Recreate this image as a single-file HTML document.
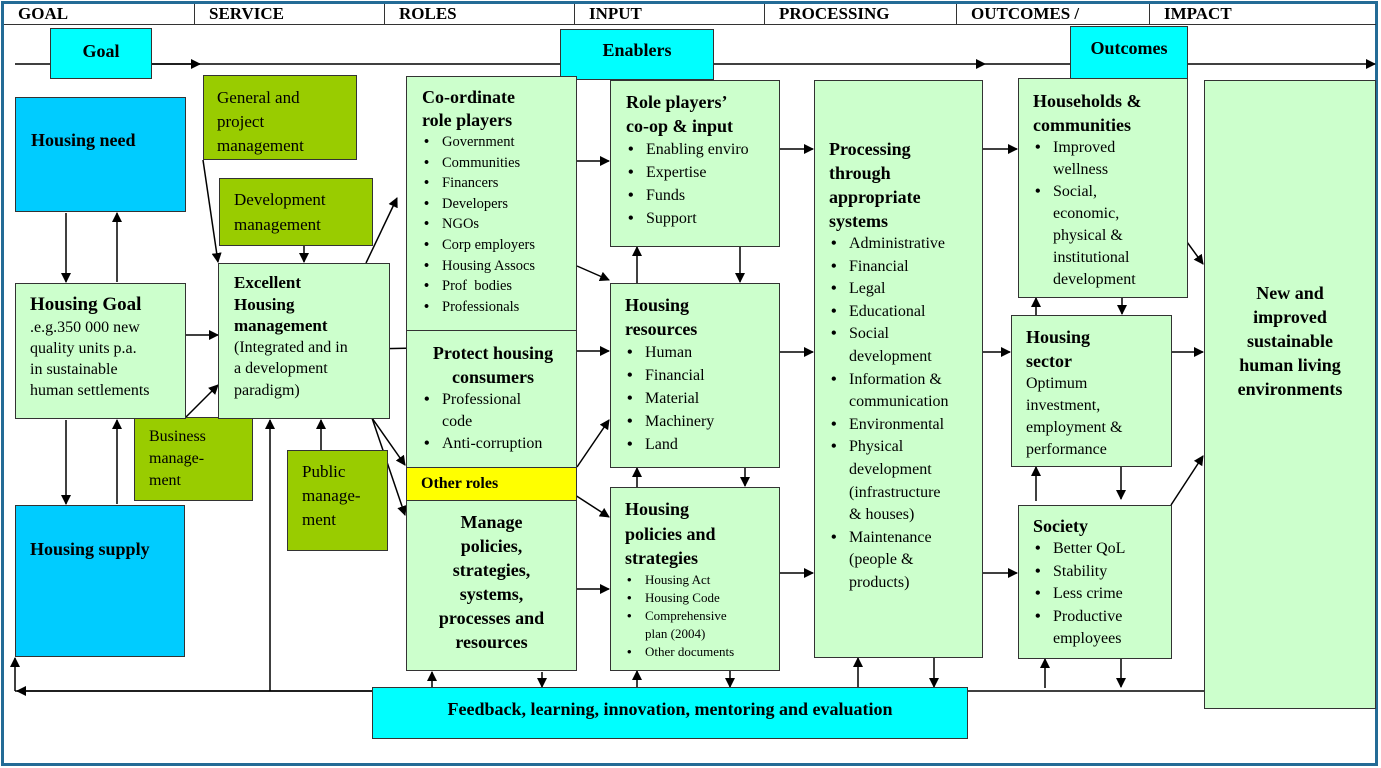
<!DOCTYPE html>
<html><head><meta charset="utf-8"><style>
*{margin:0;padding:0;box-sizing:border-box}
body{width:1381px;height:768px;background:#fff;position:relative;overflow:hidden;font-family:"Liberation Serif",serif;color:#000}
.fr{position:absolute;left:1px;top:1px;width:1377px;height:765px;border:3px solid #236b96}
.h{position:absolute;top:4px;height:21px;border-right:1.5px solid #333;font-weight:bold;font-size:17px;padding-left:14px;line-height:20px}
.hb{position:absolute;left:4px;top:24px;width:1372px;border-top:1.5px solid #333}
.b{position:absolute;border:1.5px solid #333;background:#ccffcc;font-size:16px}
.c{background:#00ffff}
.bl{background:#00ccff}
.g{background:#99cc00}
.y{background:#ffff00}
.t{font-weight:bold;font-size:18px}
.li{position:relative;padding-left:20px}
.li:before{content:"•";position:absolute;left:2px;font-weight:bold}
svg{position:absolute;left:0;top:0}
</style></head><body>
<div class="fr"></div>
<div class="h" style="left:4px;width:191px">GOAL</div>
<div class="h" style="left:195px;width:190px">SERVICE</div>
<div class="h" style="left:385px;width:190px">ROLES</div>
<div class="h" style="left:575px;width:190px">INPUT</div>
<div class="h" style="left:765px;width:192px">PROCESSING</div>
<div class="h" style="left:957px;width:193px">OUTCOMES /</div>
<div class="h" style="left:1150px;width:226px;border-right:none">IMPACT</div>
<div class="hb"></div>

<svg width="1381" height="768">
<defs><marker id="a" markerWidth="10" markerHeight="10" refX="9" refY="5" orient="auto" markerUnits="userSpaceOnUse"><path d="M0,0 L10,5 L0,10z"/></marker></defs>
<g stroke="#000" stroke-width="1.5" fill="none">
<line x1="15" y1="64" x2="200" y2="64" marker-end="url(#a)"/>
<line x1="150" y1="64" x2="985" y2="64" marker-end="url(#a)"/>
<line x1="985" y1="64" x2="1375" y2="64" marker-end="url(#a)"/>
<line x1="15" y1="691" x2="1206" y2="691"/>
<line x1="372" y1="691" x2="17" y2="691" marker-end="url(#a)"/>
<line x1="15" y1="691" x2="15" y2="658" marker-end="url(#a)"/>
<line x1="66" y1="213" x2="66" y2="282" marker-end="url(#a)"/>
<line x1="117" y1="282" x2="117" y2="213" marker-end="url(#a)"/>
<line x1="66" y1="420" x2="66" y2="504" marker-end="url(#a)"/>
<line x1="117" y1="504" x2="117" y2="420" marker-end="url(#a)"/>
<line x1="186" y1="335" x2="218" y2="335" marker-end="url(#a)"/>
<line x1="186" y1="417" x2="218" y2="385" marker-end="url(#a)"/>
<line x1="203" y1="160" x2="218" y2="262" marker-end="url(#a)"/>
<line x1="304" y1="245" x2="304" y2="262" marker-end="url(#a)"/>
<line x1="366" y1="263" x2="397" y2="198" marker-end="url(#a)"/>
<line x1="270" y1="691" x2="270" y2="420" marker-end="url(#a)"/>
<line x1="321" y1="450" x2="321" y2="420" marker-end="url(#a)"/>
<line x1="370" y1="349" x2="418" y2="348" marker-end="url(#a)"/>
<line x1="372" y1="418" x2="405" y2="465" marker-end="url(#a)"/>
<line x1="372" y1="418" x2="405" y2="515" marker-end="url(#a)"/>
<line x1="577" y1="161" x2="609" y2="161" marker-end="url(#a)"/>
<line x1="577" y1="266" x2="609" y2="280" marker-end="url(#a)"/>
<line x1="577" y1="351" x2="609" y2="351" marker-end="url(#a)"/>
<line x1="577" y1="467" x2="609" y2="420" marker-end="url(#a)"/>
<line x1="558" y1="484" x2="609" y2="517" marker-end="url(#a)"/>
<line x1="577" y1="589" x2="609" y2="589" marker-end="url(#a)"/>
<line x1="637" y1="283" x2="637" y2="247" marker-end="url(#a)"/>
<line x1="740" y1="247" x2="740" y2="282" marker-end="url(#a)"/>
<line x1="637" y1="487" x2="637" y2="468" marker-end="url(#a)"/>
<line x1="745" y1="468" x2="745" y2="486" marker-end="url(#a)"/>
<line x1="780" y1="149" x2="813" y2="149" marker-end="url(#a)"/>
<line x1="780" y1="352" x2="813" y2="352" marker-end="url(#a)"/>
<line x1="780" y1="573" x2="813" y2="573" marker-end="url(#a)"/>
<line x1="983" y1="149" x2="1017" y2="149" marker-end="url(#a)"/>
<line x1="983" y1="352" x2="1010" y2="352" marker-end="url(#a)"/>
<line x1="983" y1="573" x2="1017" y2="573" marker-end="url(#a)"/>
<line x1="1171" y1="352" x2="1203" y2="352" marker-end="url(#a)"/>
<line x1="1171" y1="220" x2="1203" y2="264" marker-end="url(#a)"/>
<line x1="1171" y1="505" x2="1203" y2="456" marker-end="url(#a)"/>
<line x1="1036" y1="315" x2="1036" y2="298" marker-end="url(#a)"/>
<line x1="1122" y1="298" x2="1122" y2="314" marker-end="url(#a)"/>
<line x1="1036" y1="501" x2="1036" y2="467" marker-end="url(#a)"/>
<line x1="1121" y1="467" x2="1121" y2="499" marker-end="url(#a)"/>
<line x1="1045" y1="688" x2="1045" y2="659" marker-end="url(#a)"/>
<line x1="1121" y1="659" x2="1121" y2="687" marker-end="url(#a)"/>
<line x1="432" y1="687" x2="432" y2="672" marker-end="url(#a)"/>
<line x1="542" y1="672" x2="542" y2="687" marker-end="url(#a)"/>
<line x1="637" y1="687" x2="637" y2="671" marker-end="url(#a)"/>
<line x1="730" y1="671" x2="730" y2="687" marker-end="url(#a)"/>
<line x1="858" y1="687" x2="858" y2="658" marker-end="url(#a)"/>
<line x1="934" y1="658" x2="934" y2="687" marker-end="url(#a)"/>
</g></svg>

<div class="b c t" style="left:50px;top:28px;width:102px;height:51px;text-align:center;line-height:44px">Goal</div>
<div class="b c t" style="left:560px;top:29px;width:154px;height:51px;text-align:center;line-height:40px">Enablers</div>
<div class="b c t" style="left:1070px;top:26px;width:118px;height:54px;text-align:center;line-height:42px">Outcomes</div>

<div class="b bl t" style="left:15px;top:97px;width:171px;height:115px;padding:32px 0 0 15px">Housing need</div>
<div class="b bl t" style="left:15px;top:505px;width:170px;height:152px;padding:33px 0 0 14px">Housing supply</div>

<div class="b g" style="left:203px;top:75px;width:154px;height:85px;padding:10px 0 0 13px;font-size:17px;line-height:24px">General and<br>project<br>management</div>
<div class="b g" style="left:219px;top:178px;width:154px;height:68px;padding:8px 0 0 14px;font-size:17px;line-height:25px">Development<br>management</div>
<div class="b g" style="left:134px;top:417px;width:119px;height:84px;padding:8px 0 0 14px;line-height:22px">Business<br>manage-<br>ment</div>
<div class="b g" style="left:287px;top:450px;width:101px;height:101px;padding:9px 0 0 14px;font-size:17px;line-height:24px">Public<br>manage-<br>ment</div>

<div class="b" style="left:15px;top:283px;width:171px;height:136px;padding:9px 0 0 14px;line-height:21px"><div class="t" style="line-height:24px;font-size:19px">Housing Goal</div>.e.g.350 000 new<br>quality units p.a.<br>in sustainable<br>human settlements</div>

<div class="b" style="left:218px;top:263px;width:172px;height:156px;padding:8px 0 0 15px;line-height:21.5px"><div style="font-weight:bold;font-size:17px">Excellent<br>Housing<br>management</div>(Integrated and in<br>a development<br>paradigm)</div>

<div class="b" style="left:406px;top:76px;width:171px;height:255px;padding:9px 0 0 15px;font-size:14.5px;line-height:20.6px"><div class="t" style="line-height:23px">Co-ordinate<br>role players</div><div class="li">Government</div><div class="li">Communities</div><div class="li">Financers</div><div class="li">Developers</div><div class="li">NGOs</div><div class="li">Corp employers</div><div class="li">Housing Assocs</div><div class="li">Prof &nbsp;bodies</div><div class="li">Professionals</div></div>

<div class="b" style="left:406px;top:330px;width:171px;height:138px;padding:10px 0 0 15px;line-height:22px"><div class="t" style="text-align:center;padding-right:12px;line-height:24px">Protect housing<br>consumers</div><div class="li">Professional<br>code</div><div class="li">Anti-corruption</div></div>

<div class="b y" style="left:406px;top:467px;width:171px;height:34px;padding:7px 0 0 14px;font-weight:bold">Other roles</div>

<div class="b" style="left:406px;top:500px;width:171px;height:171px;padding:9px 0 0 0;text-align:center;line-height:24px"><div class="t" style="line-height:24px">Manage<br>policies,<br>strategies,<br>systems,<br>processes and<br>resources</div></div>

<div class="b" style="left:610px;top:80px;width:170px;height:167px;padding:9px 0 0 15px;line-height:23px"><div class="t" style="line-height:24px">Role players’<br>co-op &amp; input</div><div class="li">Enabling enviro</div><div class="li">Expertise</div><div class="li">Funds</div><div class="li">Support</div></div>

<div class="b" style="left:610px;top:283px;width:170px;height:185px;padding:9px 0 0 14px;line-height:23px"><div class="t" style="line-height:24px">Housing<br>resources</div><div class="li">Human</div><div class="li">Financial</div><div class="li">Material</div><div class="li">Machinery</div><div class="li">Land</div></div>

<div class="b" style="left:610px;top:487px;width:170px;height:184px;padding:9px 0 0 14px;font-size:13px;line-height:18px"><div class="t" style="line-height:24.5px">Housing<br>policies and<br>strategies</div><div class="li">Housing Act</div><div class="li">Housing Code</div><div class="li">Comprehensive<br>plan (2004)</div><div class="li">Other documents</div></div>

<div class="b" style="left:814px;top:80px;width:169px;height:578px;padding:56px 0 0 14px;line-height:22.6px"><div class="t" style="line-height:24px">Processing<br>through<br>appropriate<br>systems</div><div class="li">Administrative</div><div class="li">Financial</div><div class="li">Legal</div><div class="li">Educational</div><div class="li">Social<br>development</div><div class="li">Information &amp;<br>communication</div><div class="li">Environmental</div><div class="li">Physical<br>development<br>(infrastructure<br>&amp; houses)</div><div class="li">Maintenance<br>(people &amp;<br>products)</div></div>

<div class="b" style="left:1018px;top:78px;width:170px;height:220px;padding:10px 0 0 14px;line-height:22px"><div class="t" style="line-height:24px">Households &amp;<br>communities</div><div class="li">Improved<br>wellness</div><div class="li">Social,<br>economic,<br>physical &amp;<br>institutional<br>development</div></div>

<div class="b" style="left:1011px;top:315px;width:161px;height:152px;padding:9px 0 0 14px;line-height:22px"><div class="t" style="line-height:24px">Housing<br>sector</div>Optimum<br>investment,<br>employment &amp;<br>performance</div>

<div class="b" style="left:1018px;top:505px;width:154px;height:154px;padding:8px 0 0 14px;line-height:22.5px"><div class="t" style="line-height:24px">Society</div><div class="li">Better QoL</div><div class="li">Stability</div><div class="li">Less crime</div><div class="li">Productive<br>employees</div></div>

<div class="b" style="left:1204px;top:80px;width:172px;height:629px;padding:200px 0 0 0;text-align:center"><div class="t" style="line-height:24px">New and<br>improved<br>sustainable<br>human living<br>environments</div></div>

<div class="b c t" style="left:372px;top:687px;width:596px;height:52px;text-align:center;line-height:42px">Feedback, learning, innovation, mentoring and evaluation</div>
</body></html>
